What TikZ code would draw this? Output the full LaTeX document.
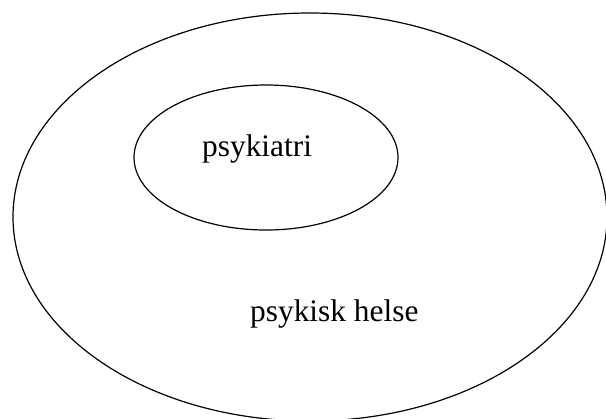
\documentclass[tikz,border=0pt]{standalone}
\usepackage{fontspec}
\setmainfont{Liberation Serif}
\usetikzlibrary{positioning,shapes.geometric}

\begin{document}
\begin{tikzpicture}[x=1bp, y=-1bp,
                    ring/.style={draw, ellipse, line width=1.2bp, inner sep=0pt},
                    label/.style={font=\fontsize{31.5}{37}\selectfont, inner sep=0pt, anchor=base west}]
  \useasboundingbox (0,0) rectangle (606,418);
  % outer area and inner area
  \node[ring, minimum width=594bp, minimum height=408bp] (helse) at (310,217) {};
  \node[ring, minimum width=264bp, minimum height=145bp] (psyk) at (266,157.5) {};
  % texts
  \node[label] (psyktxt) at (202,156) {psykiatri};
  \node[label] (helsetxt) at (250,321) {psykisk helse};
\end{tikzpicture}
\end{document}
